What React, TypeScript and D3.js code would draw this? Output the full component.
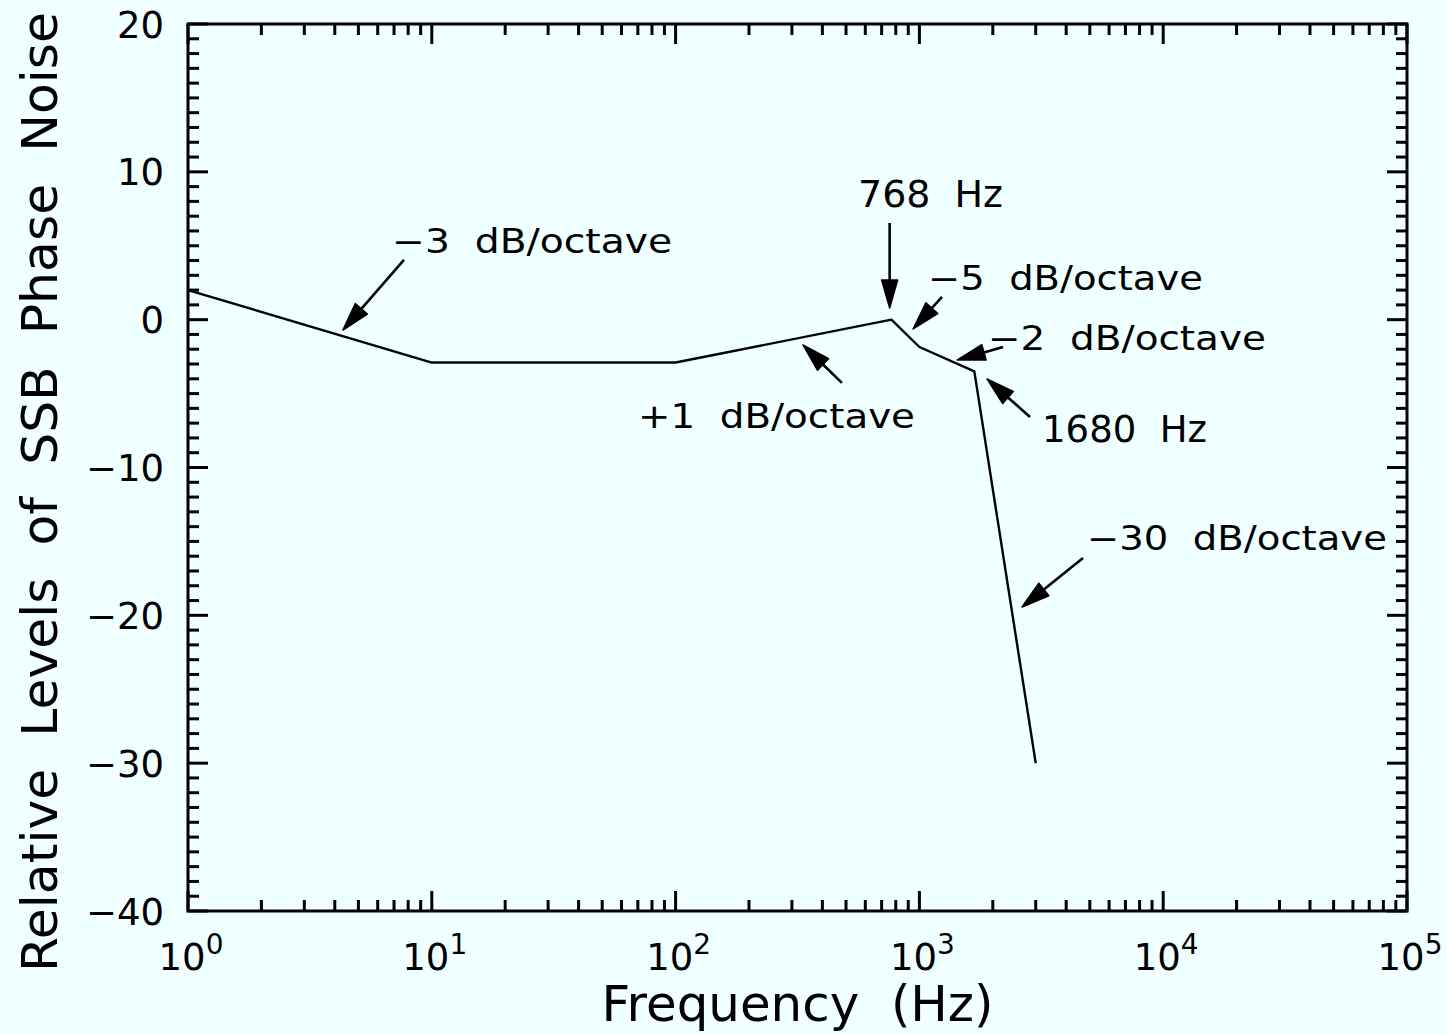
import React from "react";
import * as d3 from "d3";

// ---- data ----
const freqs = [1, 10, 100, 768, 1000, 1680, 3000];
const levels = [2, -2.9, -2.9, 0, -1.85, -3.5, -30];

const yTickValues = [20, 10, 0, -10, -20, -30, -40];
const yTickLabels = ["20", "10", "0", "\u221210", "\u221220", "\u221230", "\u221240"];
const xDecadeExponents = [0, 1, 2, 3, 4, 5];
const xMinorMultipliers = [2, 3, 4, 5, 6, 7, 8, 9];

// annotation labels (text start position in data coordinates)
const labelTexts = [
  "\u22123  dB/octave",
  "768  Hz",
  "\u22125  dB/octave",
  "\u22122  dB/octave",
  "1680  Hz",
  "+1  dB/octave",
  "\u221230  dB/octave",
];
const labelFreq = [6.87, 560, 1084, 1911, 3185, 70.1, 4866];
const labelLevel = [4.51, 7.63, 2.01, -2.05, -8.27, -7.33, -15.58];

// arrows: tail -> tip in data coordinates
const arrowTailFreq = [7.69, 755, 1238, 2203, 2843, 481, 4690];
const arrowTailLevel = [4.04, 6.54, 1.54, -1.85, -6.58, -4.28, -16.12];
const arrowTipFreq = [4.32, 755, 942, 1427, 1893, 333, 2636];
const arrowTipLevel = [-0.7, 0.79, -0.63, -2.73, -4.01, -1.71, -19.44];

// ---- layout ----
const W = 1447;
const H = 1034;
const left = 188;
const right = 1407;
const top = 24;
const bottom = 911;
const BG = "#F0FFFF";
const INK = "#000";
const FONT = "'DejaVu Sans', 'Liberation Sans', sans-serif";
const labelWidths = [280, 145, 275, 278, 165, 277, 300];
const labelSizes = [33, 37, 33, 33, 37, 33, 33];

export default function App() {
  const x = d3.scaleLog().domain([1, 1e5]).range([left, right]);
  const y = d3.scaleLinear().domain([-40, 20]).range([bottom, top]);

  const line = d3
    .line<number>()
    .x((_, i) => x(freqs[i]))
    .y((d) => y(d));

  const majorX = xDecadeExponents.map((e) => Math.pow(10, e));
  const minorX: number[] = [];
  xDecadeExponents.slice(0, -1).forEach((e) =>
    xMinorMultipliers.forEach((m) => minorX.push(m * Math.pow(10, e)))
  );
  const minorY = d3.range(-40, 21, 1).filter((v) => v % 10 !== 0);

  const majorLen = 20;
  const minorLen = 11;

  const arrows = arrowTailFreq.map((_, i) => {
    const x1 = x(arrowTailFreq[i]);
    const y1 = y(arrowTailLevel[i]);
    const x2 = x(arrowTipFreq[i]);
    const y2 = y(arrowTipLevel[i]);
    const dx = x2 - x1;
    const dy = y2 - y1;
    const len = Math.sqrt(dx * dx + dy * dy);
    const ux = dx / len;
    const uy = dy / len;
    const headL = 28;
    const headW = 8;
    const bx = x2 - ux * headL;
    const by = y2 - uy * headL;
    const pts = [
      [x2, y2],
      [bx - uy * headW, by + ux * headW],
      [bx + uy * headW, by - ux * headW],
    ]
      .map((p) => p.join(","))
      .join(" ");
    return { x1, y1, bx, by, pts };
  });

  return (
    <svg
      width={W}
      height={H}
      style={{ position: "absolute", left: 0, top: 0, display: "block" }}
      fontFamily={FONT}
    >
      <rect x={0} y={0} width={W} height={H} fill={BG} />

      {/* ticks */}
      <g stroke={INK} strokeWidth={3}>
        {majorX.map((v, i) => (
          <g key={"mx" + i}>
            <line x1={x(v)} x2={x(v)} y1={bottom} y2={bottom - majorLen} />
            <line x1={x(v)} x2={x(v)} y1={top} y2={top + majorLen} />
          </g>
        ))}
        {minorX.map((v, i) => (
          <g key={"nx" + i}>
            <line x1={x(v)} x2={x(v)} y1={bottom} y2={bottom - minorLen} />
            <line x1={x(v)} x2={x(v)} y1={top} y2={top + minorLen} />
          </g>
        ))}
        {yTickValues.map((v, i) => (
          <g key={"my" + i}>
            <line x1={left} x2={left + majorLen} y1={y(v)} y2={y(v)} />
            <line x1={right} x2={right - majorLen} y1={y(v)} y2={y(v)} />
          </g>
        ))}
        {minorY.map((v, i) => (
          <g key={"ny" + i}>
            <line x1={left} x2={left + minorLen} y1={y(v)} y2={y(v)} />
            <line x1={right} x2={right - minorLen} y1={y(v)} y2={y(v)} />
          </g>
        ))}
      </g>

      {/* frame */}
      <rect
        x={left}
        y={top}
        width={right - left}
        height={bottom - top}
        fill="none"
        stroke={INK}
        strokeWidth={3}
      />

      {/* data line */}
      <path d={line(levels) || ""} fill="none" stroke={INK} strokeWidth={2.4} strokeLinejoin="round" />

      {/* arrows */}
      {arrows.map((a, i) => (
        <g key={"a" + i}>
          <line x1={a.x1} y1={a.y1} x2={a.bx} y2={a.by} stroke={INK} strokeWidth={2.6} />
          <polygon points={a.pts} fill={INK} stroke={INK} strokeWidth={1.5} strokeLinejoin="round" />
        </g>
      ))}

      {/* annotation labels */}
      {labelTexts.map((t, i) => (
        <text
          key={"l" + i}
          x={x(labelFreq[i])}
          y={y(labelLevel[i])}
          fontSize={labelSizes[i]}
          textLength={labelWidths[i]}
          lengthAdjust="spacingAndGlyphs"
          fill={INK}
          style={{ whiteSpace: "pre" }}
        >
          {t}
        </text>
      ))}

      {/* y tick labels */}
      {yTickValues.map((v, i) => (
        <text
          key={"yl" + i}
          x={164}
          y={y(v) + 13.5}
          fontSize={37}
          textAnchor="end"
          fill={INK}
        >
          {yTickLabels[i]}
        </text>
      ))}

      {/* x tick labels */}
      {xDecadeExponents.map((e, i) => (
        <text key={"xl" + i} x={x(Math.pow(10, e)) + 3} y={970} textAnchor="middle" fill={INK}>
          <tspan fontSize={37}>10</tspan>
          <tspan fontSize={28} dy={-16}>
            {String(e)}
          </tspan>
        </text>
      ))}

      {/* axis titles */}
      <text
        x={(left + right) / 2}
        y={1021}
        fontSize={50}
        textAnchor="middle"
        textLength={392}
        lengthAdjust="spacingAndGlyphs"
        fill={INK}
        style={{ whiteSpace: "pre" }}
      >
        {"Frequency  (Hz)"}
      </text>
      <text
        transform={`translate(57, 492) rotate(-90)`}
        fontSize={50}
        textAnchor="middle"
        textLength={960}
        lengthAdjust="spacingAndGlyphs"
        fill={INK}
        style={{ whiteSpace: "pre" }}
      >
        {"Relative  Levels  of  SSB  Phase  Noise"}
      </text>
    </svg>
  );
}
